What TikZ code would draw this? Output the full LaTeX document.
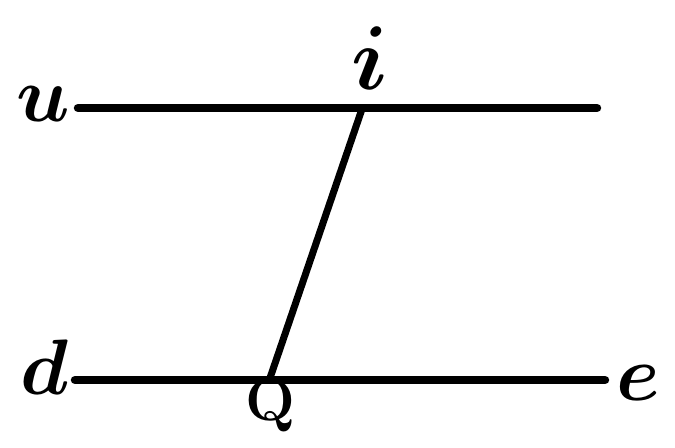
\documentclass[tikz,border=0pt]{standalone}
\begin{document}
\begin{tikzpicture}[line cap=round,
    rule/.style={line width=4.8pt},
    lbl/.style={font=\Huge\boldmath,scale=1.8,inner sep=0pt}]
\useasboundingbox (0,0) rectangle (13.5,8.94);

\coordinate (ua) at (1.56,6.78);
\coordinate (ub) at (11.94,6.78);
\coordinate (da) at (1.5,1.34);
\coordinate (eb) at (12.1,1.34);
\coordinate (i) at (7.24,6.76);
\coordinate (Q) at (5.4,1.38);

\draw[rule] (ua) -- (ub);
\draw[rule] (da) -- (eb);
\draw[line width=4pt] (i) -- (Q);

\node[lbl] (lu) at (0.86,6.86) {$u$};
\node[lbl,scale=1.15] (li) at (7.4,7.78) {$i$};
\node[lbl] (ld) at (0.88,1.6) {$d$};
\node[lbl,scale=0.75] (lQ) at (5.4,0.82) {\textbf{Q}};
\node[lbl] (le) at (12.76,1.28) {$e$};
\end{tikzpicture}
\end{document}
